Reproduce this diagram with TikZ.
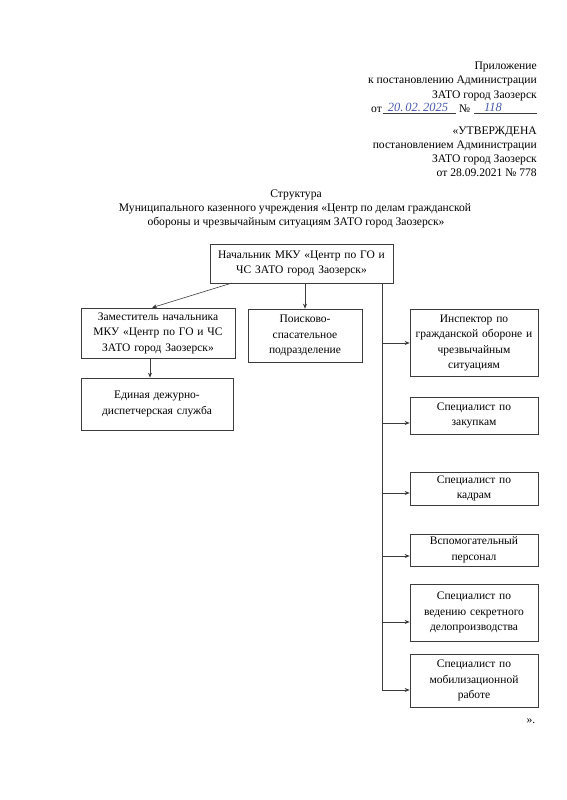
\documentclass[tikz,border=0pt]{standalone}
\usepackage{fontspec}
\setmainfont{Liberation Serif}
\usetikzlibrary{arrows.meta}
\definecolor{ink}{RGB}{60,60,60}
\definecolor{pen}{RGB}{70,90,170}
\begin{document}
\begin{tikzpicture}[x=1pt,y=-1pt,
  every node/.style={font=\fontsize{11.6}{14}\selectfont, inner sep=0pt},
  orgbox/.style={draw=ink, line width=0.7pt, align=center, font=\fontsize{11.5}{15.5}\selectfont},
  conn/.style={draw=ink, line width=0.6pt},
  arr/.style={conn, -{Stealth[length=5pt,width=4pt]}},
  hdr/.style={anchor=base east, align=right},
  hand/.style={anchor=base, text=pen, font=\itshape\fontsize{12.5}{13}\selectfont}]
\useasboundingbox (0,0) rectangle (566,800);
% header
\node[hdr] (h1) at (537,70) {Приложение};
\node[hdr] (h2) at (537,84) {к постановлению Администрации};
\node[hdr] (h3) at (537,98) {ЗАТО город Заозерск};
\node[anchor=base west] (ot) at (371,112) {от};
\coordinate (l1a) at (383,113); \coordinate (l1b) at (456,113);
\draw[conn, line width=0.4pt] (l1a) -- (l1b);
\node[hand] (d1) at (418,111) {20.\,02.\,2025};
\node[anchor=base west] (no) at (459,112) {№};
\coordinate (l2a) at (474,113); \coordinate (l2b) at (537,113);
\draw[conn, line width=0.4pt] (l2a) -- (l2b);
\node[hand] (d2) at (493,111) {118};
\node[hdr] (u1) at (537,134) {«УТВЕРЖДЕНА};
\node[hdr] (u2) at (537,148) {постановлением Администрации};
\node[hdr] (u3) at (537,162) {ЗАТО город Заозерск};
\node[hdr] (u4) at (537,176) {от 28.09.2021 № 778};
% title
\node[anchor=base] (t1) at (296,197) {Структура};
\node[anchor=base] (t2) at (295,211) {Муниципального казенного учреждения «Центр по делам гражданской};
\node[anchor=base] (t3) at (296,225) {обороны и чрезвычайным ситуациям ЗАТО город Заозерск»};
% boxes
\node[orgbox, minimum width=183pt, minimum height=39pt, text width=175pt] (top) at (301.5,263.5) {Начальник МКУ «Центр по ГО и\\ЧС ЗАТО город Заозерск»};
\node[orgbox, minimum width=154pt, minimum height=50pt, text width=150pt] (dep) at (158,333) {Заместитель начальника\\МКУ «Центр по ГО и ЧС\\ЗАТО город Заозерск»};
\node[orgbox, minimum width=114pt, minimum height=53pt, text width=110pt] (srch) at (305,335.5) {Поисково-\\спасательное\\подразделение};
\node[orgbox, minimum width=152pt, minimum height=52pt, text width=148pt] (edds) at (157,404) {Единая дежурно-\\диспетчерская служба\\[14pt]};
\node[orgbox, minimum width=128pt, minimum height=67pt, text width=124pt] (insp) at (474,343) {Инспектор по\\гражданской обороне и\\чрезвычайным\\ситуациям};
\node[orgbox, minimum width=128pt, minimum height=37pt, text width=124pt] (zak) at (474,415.5) {Специалист по\\закупкам};
\node[orgbox, minimum width=128pt, minimum height=33pt, text width=124pt] (kadr) at (474,488.5) {Специалист по\\кадрам};
\node[orgbox, minimum width=128pt, minimum height=32pt, text width=124pt] (vsp) at (474,550) {Вспомогательный\\персонал};
\node[orgbox, minimum width=128pt, minimum height=57pt, text width=124pt] (sec) at (474,612.5) {Специалист по\\ведению секретного\\делопроизводства};
\node[orgbox, minimum width=128pt, minimum height=53pt, text width=124pt] (mob) at (474,680.5) {Специалист по\\мобилизационной\\работе};
\node[anchor=base] (end) at (531,723) {».};
% connectors
\coordinate (spineTop) at (382,283);
\coordinate (spineBot) at (382,690);
\draw[conn] (spineTop) -- (spineBot);
\draw[arr] (232,283) -- (dep.north -| 152,0);
\draw[arr] (srch.north |- top.south) -- (srch.north);
\draw[arr] (dep.south -| 150,0) -- (edds.north -| 150,0);
\coordinate (b1) at (382,343);
\coordinate (b2) at (382,423);
\coordinate (b3) at (382,493);
\coordinate (b4) at (382,556);
\coordinate (b5) at (382,622);
\draw[arr] (b1) -- (b1 -| insp.west);
\draw[arr] (b2) -- (b2 -| zak.west);
\draw[arr] (b3) -- (b3 -| kadr.west);
\draw[arr] (b4) -- (b4 -| vsp.west);
\draw[arr] (b5) -- (b5 -| sec.west);
\draw[arr] (spineBot) -- (spineBot -| mob.west);
\end{tikzpicture}
\end{document}
